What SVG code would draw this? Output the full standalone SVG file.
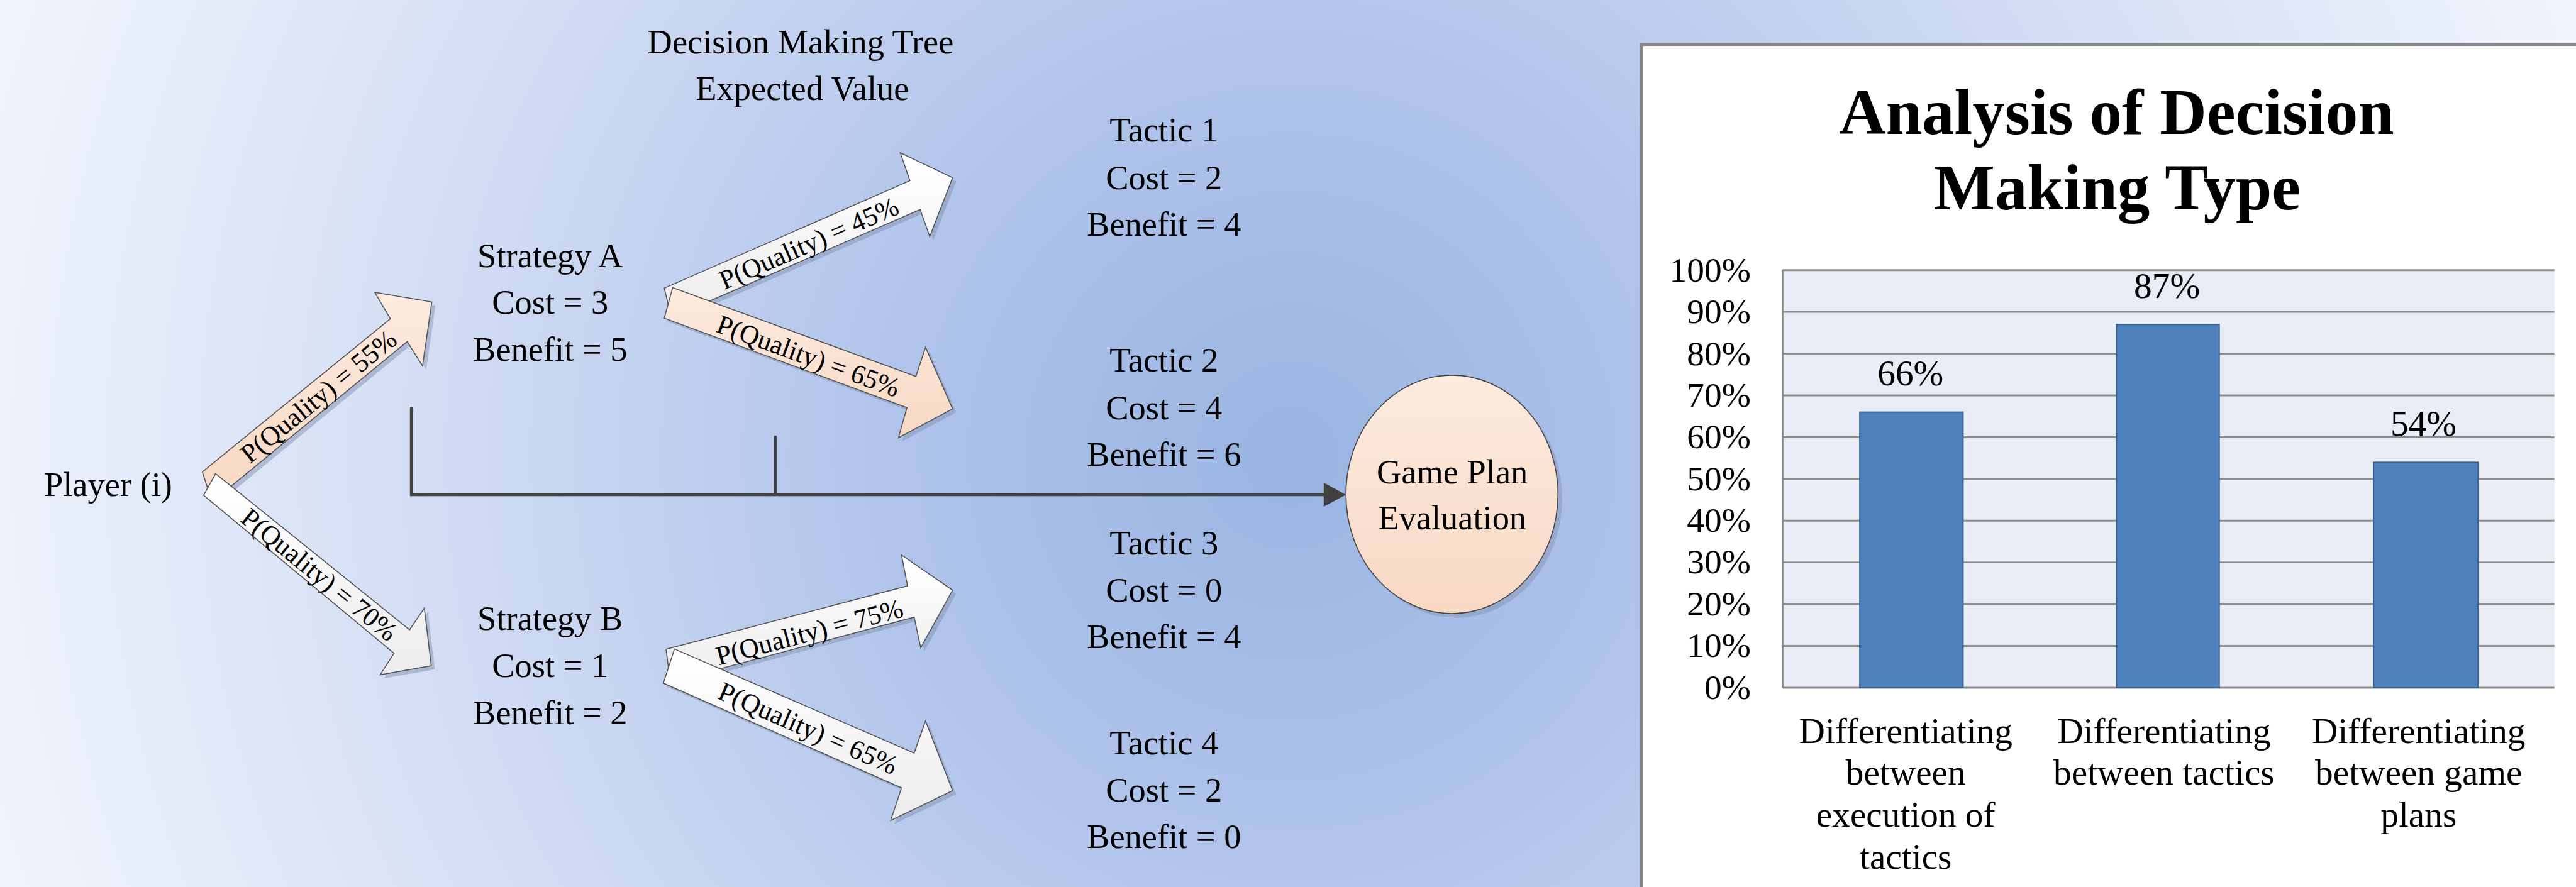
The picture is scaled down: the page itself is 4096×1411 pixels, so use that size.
<svg xmlns="http://www.w3.org/2000/svg" width="4096" height="1411" viewBox="0 0 4096 1411">
  <defs>
    <radialGradient id="bg" gradientUnits="userSpaceOnUse" cx="2150" cy="760" r="2250">
      <stop offset="0" stop-color="#99b4e2"/>
      <stop offset="0.3" stop-color="#b0c4eb"/>
      <stop offset="0.65" stop-color="#d3def4"/>
      <stop offset="1" stop-color="#f0f4fc"/>
    </radialGradient>
    <linearGradient id="gWhite" x1="0" y1="0" x2="0" y2="1">
      <stop offset="0" stop-color="#ffffff"/>
      <stop offset="1" stop-color="#ececec"/>
    </linearGradient>
    <linearGradient id="gPeach" x1="0" y1="0" x2="0" y2="1">
      <stop offset="0" stop-color="#fcebdf"/>
      <stop offset="1" stop-color="#f7d8c3"/>
    </linearGradient>
    <style>
      .t { font-family: "Liberation Serif", "Times New Roman", serif; fill: #000; }
      .tree { font-size: 57px; text-anchor: middle; }
      .lbl { font-size: 45px; text-anchor: middle; }
      .shadow { fill: #8291b0; opacity: 0.5; }
      .aw { fill: url(#gWhite); stroke: #505050; stroke-width: 1.6; }
      .ap { fill: url(#gPeach); stroke: #505050; stroke-width: 1.6; }
      .conn { fill: none; stroke: #404040; stroke-width: 5; stroke-linecap: round; }
      .grid { stroke: #8c8c8c; stroke-width: 3; }
      .bar { fill: #4f81bd; stroke: #3a5f8f; stroke-width: 2; }
      .ax { font-size: 58px; text-anchor: end; }
      .val { font-size: 60px; text-anchor: middle; }
      .cat { font-size: 60px; text-anchor: middle; }
      .ttl { font-size: 108px; font-weight: bold; text-anchor: middle; }
    </style>
  </defs>

  <g transform="scale(0.955)">
    <!-- backdrop -->
    <rect x="0" y="0" width="4290" height="1480" fill="url(#bg)"/>

    <!-- heading -->
    <g id="tree-heading">
      <text class="t tree" x="1333" y="89">Decision Making Tree</text>
      <text class="t tree" x="1336" y="166">Expected Value</text>
    </g>

    <!-- connectors: bracket line to the evaluation node and the probability arrows -->
    <g id="connectors">
      <g id="evaluation-link">
        <path class="conn" d="M685,680 V824 H2208"/>
        <path class="conn" d="M1291,728 V824"/>
        <polygon points="2241,824 2204,804 2204,844" fill="#404040"/>
      </g>

      <g id="branch-player-a">
        <polygon class="shadow" transform="translate(6,6)" points="337,786 650,531 624,487 719,503 703.5,609.5 678,569 353,836"/>
        <polygon class="ap" points="337,786 650,531 624,487 719,503 703.5,609.5 678,569 353,836"/>
        <text class="t lbl" transform="translate(531,661) rotate(-39.3)" y="14">P(Quality) = 55%</text>
      </g>
      <g id="branch-player-b">
        <polygon class="shadow" transform="translate(6,6)" points="359,789 682,1049 706.5,1013 718,1109 633,1124 656,1088 339,825"/>
        <polygon class="aw" points="359,789 682,1049 706.5,1013 718,1109 633,1124 656,1088 339,825"/>
        <text class="t lbl" transform="translate(531,958) rotate(39.2)" y="14">P(Quality) = 70%</text>
      </g>

      <g id="branch-a-t1">
        <polygon class="shadow" transform="translate(6,6)" points="1106,480 1515,301 1499,254.5 1586,296 1548,394 1532,349 1118,529"/>
        <polygon class="aw" points="1106,480 1515,301 1499,254.5 1586,296 1548,394 1532,349 1118,529"/>
        <text class="t lbl" transform="translate(1347,406) rotate(-23.5)" y="14">P(Quality) = 45%</text>
      </g>
      <g id="branch-a-t2">
        <polygon class="shadow" transform="translate(6,6)" points="1120,479 1525,627 1541,578.5 1586,681 1496,729 1510,679 1106,530"/>
        <polygon class="ap" points="1120,479 1525,627 1541,578.5 1586,681 1496,729 1510,679 1106,530"/>
        <text class="t lbl" transform="translate(1345.5,594) rotate(20)" y="14">P(Quality) = 65%</text>
      </g>

      <g id="branch-b-t3">
        <polygon class="shadow" transform="translate(6,6)" points="1109,1081.5 1511,976 1501,924.6 1586,983 1533,1079 1522,1028 1116,1136"/>
        <polygon class="aw" points="1109,1081.5 1511,976 1501,924.6 1586,983 1533,1079 1522,1028 1116,1136"/>
        <text class="t lbl" transform="translate(1348,1054) rotate(-14.8)" y="14">P(Quality) = 75%</text>
      </g>
      <g id="branch-b-t4">
        <polygon class="shadow" transform="translate(6,6)" points="1123,1081 1522,1254.5 1541,1201 1586,1317 1483,1366.6 1501,1312.3 1104.5,1138"/>
        <polygon class="aw" points="1123,1081 1522,1254.5 1541,1201 1586,1317 1483,1366.6 1501,1312.3 1104.5,1138"/>
        <text class="t lbl" transform="translate(1345,1214) rotate(23.6)" y="14">P(Quality) = 65%</text>
      </g>
    </g>

    <!-- tree nodes -->
    <g id="player">
      <text class="t tree" x="180" y="826">Player (i)</text>
    </g>
    <g id="strategy-a">
      <text class="t tree" x="916" y="445">Strategy A</text>
      <text class="t tree" x="916" y="523">Cost = 3</text>
      <text class="t tree" x="916" y="601">Benefit = 5</text>
    </g>
    <g id="strategy-b">
      <text class="t tree" x="916" y="1049">Strategy B</text>
      <text class="t tree" x="916" y="1128">Cost = 1</text>
      <text class="t tree" x="916" y="1206">Benefit = 2</text>
    </g>
    <g id="tactic-1">
      <text class="t tree" x="1938" y="236">Tactic 1</text>
      <text class="t tree" x="1938" y="315">Cost = 2</text>
      <text class="t tree" x="1938" y="393">Benefit = 4</text>
    </g>
    <g id="tactic-2">
      <text class="t tree" x="1938" y="619">Tactic 2</text>
      <text class="t tree" x="1938" y="698">Cost = 4</text>
      <text class="t tree" x="1938" y="776">Benefit = 6</text>
    </g>
    <g id="tactic-3">
      <text class="t tree" x="1938" y="924">Tactic 3</text>
      <text class="t tree" x="1938" y="1002">Cost = 0</text>
      <text class="t tree" x="1938" y="1080">Benefit = 4</text>
    </g>
    <g id="tactic-4">
      <text class="t tree" x="1938" y="1257">Tactic 4</text>
      <text class="t tree" x="1938" y="1335">Cost = 2</text>
      <text class="t tree" x="1938" y="1413">Benefit = 0</text>
    </g>
    <g id="game-plan-evaluation">
      <ellipse cx="2424.5" cy="830.5" rx="176.5" ry="198.5" fill="#8291b0" opacity="0.45"/>
      <ellipse cx="2417.5" cy="823.5" rx="176.5" ry="198.5" fill="url(#gPeach)" stroke="#404040" stroke-width="1.6"/>
      <text class="t tree" x="2418" y="805">Game Plan</text>
      <text class="t tree" x="2418" y="882">Evaluation</text>
    </g>

    <!-- bar chart panel -->
    <g id="chart">
      <rect x="2733" y="74" width="1620" height="1460" fill="#ffffff" stroke="#888888" stroke-width="5"/>
      <text class="t ttl" x="3524" y="223">Analysis of Decision</text>
      <text class="t ttl" x="3525" y="349">Making Type</text>

      <g id="plot-area">
        <rect x="2968" y="450" width="1285" height="695.5" fill="#e8ecf4"/>
        <g class="grid">
          <line x1="2968" y1="450" x2="4253" y2="450"/>
          <line x1="2968" y1="519.55" x2="4253" y2="519.55"/>
          <line x1="2968" y1="589.1" x2="4253" y2="589.1"/>
          <line x1="2968" y1="658.65" x2="4253" y2="658.65"/>
          <line x1="2968" y1="728.2" x2="4253" y2="728.2"/>
          <line x1="2968" y1="797.75" x2="4253" y2="797.75"/>
          <line x1="2968" y1="867.3" x2="4253" y2="867.3"/>
          <line x1="2968" y1="936.85" x2="4253" y2="936.85"/>
          <line x1="2968" y1="1006.4" x2="4253" y2="1006.4"/>
          <line x1="2968" y1="1075.95" x2="4253" y2="1075.95"/>
          <line x1="2968" y1="1145.5" x2="4253" y2="1145.5"/>
          <line x1="2968" y1="450" x2="2968" y2="1145.5"/>
        </g>
        <rect class="bar" x="3096.5" y="686.5" width="172" height="459"/>
        <rect class="bar" x="3524" y="540.4" width="171" height="605.1"/>
        <rect class="bar" x="3952" y="770" width="174" height="375.5"/>
      </g>

      <g id="y-axis-labels">
        <text class="t ax" x="2915" y="469">100%</text>
        <text class="t ax" x="2915" y="538.5">90%</text>
        <text class="t ax" x="2915" y="608">80%</text>
        <text class="t ax" x="2915" y="677.5">70%</text>
        <text class="t ax" x="2915" y="747">60%</text>
        <text class="t ax" x="2915" y="816.5">50%</text>
        <text class="t ax" x="2915" y="886">40%</text>
        <text class="t ax" x="2915" y="955.5">30%</text>
        <text class="t ax" x="2915" y="1025">20%</text>
        <text class="t ax" x="2915" y="1094.5">10%</text>
        <text class="t ax" x="2915" y="1164">0%</text>
      </g>

      <g id="value-labels">
        <text class="t val" x="3181" y="642">66%</text>
        <text class="t val" x="3608" y="496">87%</text>
        <text class="t val" x="4035" y="726">54%</text>
      </g>

      <g id="category-labels">
        <text class="t cat" x="3173" y="1238">Differentiating</text>
        <text class="t cat" x="3173" y="1307">between</text>
        <text class="t cat" x="3173" y="1377">execution of</text>
        <text class="t cat" x="3173" y="1447">tactics</text>
        <text class="t cat" x="3603" y="1238">Differentiating</text>
        <text class="t cat" x="3603" y="1307">between tactics</text>
        <text class="t cat" x="4027" y="1238">Differentiating</text>
        <text class="t cat" x="4027" y="1307">between game</text>
        <text class="t cat" x="4027" y="1377">plans</text>
      </g>
    </g>
  </g>
</svg>
